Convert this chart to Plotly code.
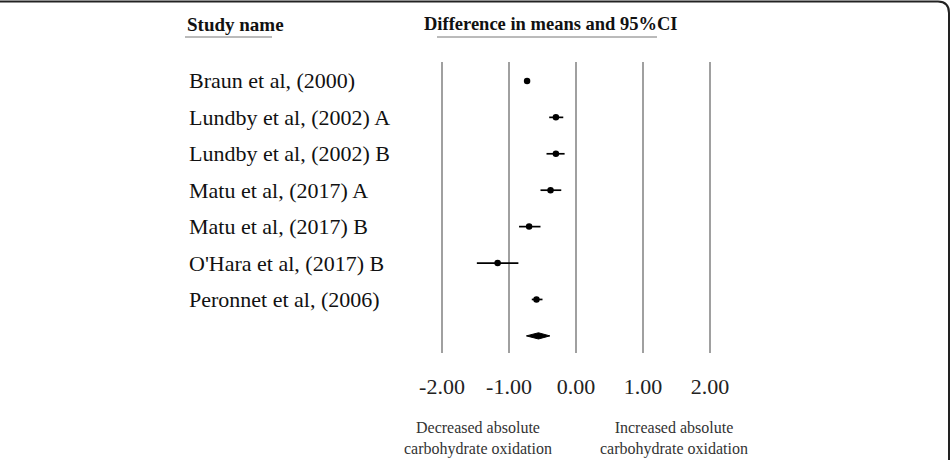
import plotly.graph_objects as go

# ---------------- data ----------------
studies = [
    "Braun et al, (2000)",
    "Lundby et al, (2002) A",
    "Lundby et al, (2002) B",
    "Matu et al, (2017) A",
    "Matu et al, (2017) B",
    "O'Hara et al, (2017) B",
    "Peronnet et al, (2006)",
]
means = [-0.73, -0.30, -0.30, -0.38, -0.70, -1.17, -0.59]
lower = [-0.76, -0.40, -0.44, -0.53, -0.85, -1.48, -0.66]
upper = [-0.70, -0.19, -0.17, -0.22, -0.53, -0.86, -0.50]
summary_mean = -0.56
summary_lower = -0.74
summary_upper = -0.39
tick_vals = [-2, -1, 0, 1, 2]
tick_labels = ["-2.00", "-1.00", "0.00", "1.00", "2.00"]
left_note = "Decreased absolute<br>carbohydrate oxidation"
right_note = "Increased absolute<br>carbohydrate oxidation"
header_left = "Study name"
header_right = "Difference in means and 95%CI"

# ---------------- layout geometry ----------------
W, H = 951, 460
L, R, T, B = 440, 239, 62, 107
PW, PH = W - L - R, H - T - B
FONT = "Liberation Serif"


def px(x):
    return (x - L) / PW


def py(y):
    return (H - B - y) / PH


rows = list(range(1, len(studies) + 1))
summary_row = len(studies) + 1

fig = go.Figure()

# study estimates with CIs
fig.add_trace(go.Scatter(
    x=means, y=rows, mode="markers",
    marker=dict(color="black", size=6.5),
    error_x=dict(type="data", symmetric=False,
                 array=[u - m for u, m in zip(upper, means)],
                 arrayminus=[m - l for m, l in zip(means, lower)],
                 color="black", thickness=1.7, width=0),
    showlegend=False, hoverinfo="skip"))

# summary diamond
hh = 0.085
fig.add_trace(go.Scatter(
    x=[summary_lower, summary_mean, summary_upper, summary_mean, summary_lower],
    y=[summary_row, summary_row - hh, summary_row, summary_row + hh, summary_row],
    mode="lines", fill="toself", fillcolor="black",
    line=dict(color="black", width=1),
    showlegend=False, hoverinfo="skip"))

annotations = []
for r, s in zip(rows, studies):
    annotations.append(dict(
        x=px(187), xref="paper", y=r, yref="y", text=s, showarrow=False,
        xanchor="left", yanchor="middle",
        font=dict(family=FONT, size=22, color="#111")))

annotations += [
    dict(x=px(185), xref="paper", y=py(24), yref="paper",
         text="<b>%s</b>" % header_left, showarrow=False,
         xanchor="left", yanchor="middle",
         font=dict(family=FONT, size=19, color="#111")),
    dict(x=px(422), xref="paper", y=py(24), yref="paper",
         text="<b>%s</b>" % header_right, showarrow=False,
         xanchor="left", yanchor="middle",
         font=dict(family=FONT, size=18.5, color="#111")),
    dict(x=px(478), xref="paper", y=py(438), yref="paper",
         text=left_note, showarrow=False, xanchor="center", yanchor="middle",
         font=dict(family=FONT, size=16, color="#333")),
    dict(x=px(674), xref="paper", y=py(438), yref="paper",
         text=right_note, showarrow=False, xanchor="center", yanchor="middle",
         font=dict(family=FONT, size=16, color="#333")),
]

shapes = [
    # header underlines
    dict(type="line", xref="paper", yref="paper",
         x0=px(185), x1=px(272), y0=py(37), y1=py(37),
         line=dict(color="#777", width=1)),
    dict(type="line", xref="paper", yref="paper",
         x0=px(437), x1=px(657), y0=py(37), y1=py(37),
         line=dict(color="#777", width=1)),
    # outer frame (top and right with rounded corner)
    dict(type="path", xref="paper", yref="paper",
         path="M %f %f L %f %f Q %f %f %f %f L %f %f" % (
             px(0), py(1.5), px(938), py(1.5), px(949), py(1.5),
             px(949), py(13), px(949), py(460)),
         line=dict(color="#222", width=2)),
]

fig.update_layout(
    width=W, height=H,
    margin=dict(l=L, r=R, t=T, b=B, autoexpand=False),
    paper_bgcolor="white", plot_bgcolor="white",
    annotations=annotations, shapes=shapes,
    xaxis=dict(range=[-2.03, 2.03], tickvals=tick_vals, ticktext=tick_labels,
               showgrid=True, gridcolor="#a0a0a0", gridwidth=2,
               zeroline=False, showline=False, ticks="",
               ticklabelstandoff=18,
               tickfont=dict(family=FONT, size=22, color="#222"),
               fixedrange=True),
    yaxis=dict(range=[8.47, 0.48], showgrid=False, zeroline=False,
               showticklabels=False, showline=False, ticks="", fixedrange=True),
)

fig.write_html("out.html")
